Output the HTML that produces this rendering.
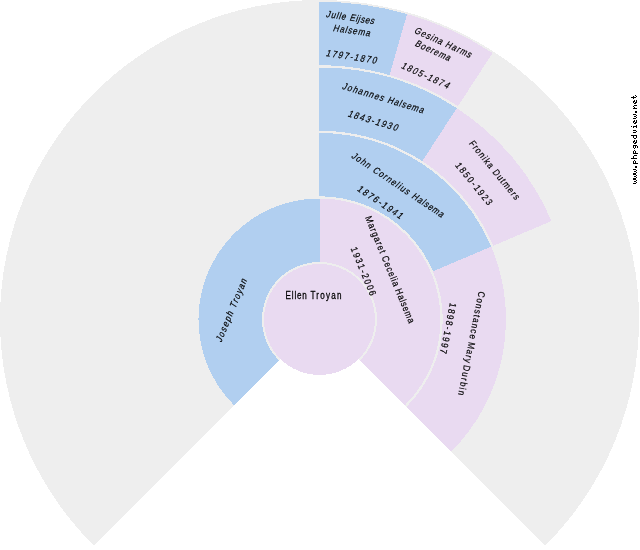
<!DOCTYPE html>
<html><head><meta charset="utf-8"><style>
html,body{margin:0;padding:0;background:#fff;}
body{width:640px;height:550px;overflow:hidden;position:relative;font-family:"Liberation Sans",sans-serif;}
svg{position:absolute;left:0;top:0;display:block}
text{font-family:"Liberation Sans",sans-serif;font-size:9.6px;fill:#000;stroke:#000;stroke-width:0.2px;}
</style></head><body>
<svg width="640" height="550" viewBox="0 0 640 550">
<g shape-rendering="crispEdges">
<path d="M319.5 319.5 L319.75 319.75 L93.83 545.67 L93.58 545.42 A319.5 319.5 0 1 1 545.42 545.42 L545.17 545.67 L319.25 319.75 Z" fill="#eeeeee"/>
<path d="M319.5 319.5 L319 319.5 L319 1.75 L319.50 1.75 A317.75 317.75 0 0 1 407.08 14.06 Z" fill="#b1cff0"/>
<path d="M319.5 319.5 L407.08 14.06 A317.75 317.75 0 0 1 492.56 53.01 Z" fill="#e9daf1"/>
<path d="M319.5 319.5 L319.75 319.75 L139.97 499.53 L139.72 499.28 A254.25 254.25 0 1 1 499.28 499.28 L499.03 499.53 L319.25 319.75 Z" fill="#eeeeee"/>
<path d="M319.5 319.5 L319 319.5 L319 67.50 L319.50 67.50 A252.0 252.0 0 0 1 456.75 108.16 Z" fill="#b1cff0"/>
<path d="M319.5 319.5 L456.75 108.16 A252.0 252.0 0 0 1 551.47 221.04 Z" fill="#e9daf1"/>
<path d="M319.5 319.5 L319.75 319.75 L186.28 453.21 L186.03 452.97 A188.75 188.75 0 1 1 452.97 452.97 L452.72 453.21 L319.25 319.75 Z" fill="#eeeeee"/>
<path d="M319.5 319.5 L319 319.5 L319 133.00 L319.50 133.00 A186.5 186.5 0 0 1 491.17 246.63 Z" fill="#b1cff0"/>
<path d="M319.5 319.5 L491.17 246.63 A186.5 186.5 0 0 1 451.38 451.38 L451.13 451.62 L319.25 319.75 Z" fill="#e9daf1"/>
<path d="M319.5 319.5 L319.75 319.75 L232.60 406.90 L232.35 406.65 A123.25 123.25 0 1 1 406.65 406.65 L406.40 406.90 L319.25 319.75 Z" fill="#eeeeee"/>
<path d="M319.5 319.5 L319.75 319.75 L234.19 405.31 L233.94 405.06 A121.0 121.0 0 0 1 319.50 198.50 L320 198.50 L320 319.5 Z" fill="#b1cff0"/>
<path d="M319.5 319.5 L320 319.5 L320 198.50 L319.50 198.50 A121.0 121.0 0 0 1 405.06 405.06 L404.81 405.31 L319.25 319.75 Z" fill="#e9daf1"/>
<path d="M319.5 319.5 L319.75 319.75 L279.09 360.41 L278.84 360.16 A57.5 57.5 0 1 1 360.16 360.16 L359.91 360.41 L319.25 319.75 Z" fill="#eeeeee"/>
<circle cx="319.5" cy="319.5" r="55.5" fill="#e9daf1"/>
</g>
<g opacity="0.999">
<g transform="translate(325.6 17.1) rotate(8.4375) skewX(-12) scale(0.84 1)"><text x="0.00" textLength="23.69" lengthAdjust="spacing">Julle</text><text x="28.57" textLength="29.17" lengthAdjust="spacing">Eijses</text></g>
<g transform="translate(332.5 30.9) rotate(8.4375) skewX(-12) scale(0.84 1)"><text x="0.00" textLength="44.52" lengthAdjust="spacing">Halsema</text></g>
<g transform="translate(325.5 56.1) rotate(8.4375) skewX(-12) scale(0.84 1)"><text x="0.00" textLength="60.71" lengthAdjust="spacing">1797-1870</text></g>
<g transform="translate(413.5 32.5) rotate(24.3) skewX(-12) scale(0.84 1)"><text x="0.00" textLength="73.21" lengthAdjust="spacing">Gesina Harms</text></g>
<g transform="translate(414.2 45.6) rotate(24.3) skewX(-12) scale(0.84 1)"><text x="0.00" textLength="45.00" lengthAdjust="spacing">Boerema</text></g>
<g transform="translate(400.5 67.8) rotate(24.3) skewX(-12) scale(0.84 1)"><text x="0.00" textLength="61.07" lengthAdjust="spacing">1805-1874</text></g>
<g transform="translate(341.6 88.8) rotate(16.875) skewX(-12) scale(0.84 1)"><text x="0.00" textLength="51.07" lengthAdjust="spacing">Johannes</text><text x="56.19" textLength="44.40" lengthAdjust="spacing">Halsema</text></g>
<g transform="translate(347.2 116.2) rotate(16.875) skewX(-12) scale(0.84 1)"><text x="0.00" textLength="61.31" lengthAdjust="spacing">1843-1930</text></g>
<g transform="translate(468.4 143.4) rotate(50.625) skewX(-5) scale(0.84 1)"><text x="0.00" textLength="87.86" lengthAdjust="spacing">Fronika Dutmers</text></g>
<g transform="translate(454.8 165.5) rotate(50.625) skewX(-5) scale(0.84 1)"><text x="0.00" textLength="61.90" lengthAdjust="spacing">1850-1923</text></g>
<g transform="translate(350.7 157.2) rotate(33.75) skewX(-10) scale(0.84 1)"><text x="0.00" textLength="24.82" lengthAdjust="spacing">John</text><text x="30.60" textLength="50.24" lengthAdjust="spacing">Cornelius</text><text x="86.43" textLength="43.33" lengthAdjust="spacing">Halsema</text></g>
<g transform="translate(356.6 190.3) rotate(33.75) skewX(-10) scale(0.84 1)"><text x="0.00" textLength="62.02" lengthAdjust="spacing">1876-1941</text></g>
<g transform="translate(365.0 217.6) rotate(67.5) skewX(-3) scale(0.84 1)"><text x="0.00" textLength="46.79" lengthAdjust="spacing">Margaret</text><text x="51.07" textLength="38.33" lengthAdjust="spacing">Cecelia</text><text x="93.45" textLength="43.10" lengthAdjust="spacing">Halsema</text></g>
<g transform="translate(350.5 248.6) rotate(67.5) skewX(-3) scale(0.84 1)"><text x="0.00" textLength="61.31" lengthAdjust="spacing">1931-2006</text></g>
<g transform="translate(478.7 291.1) rotate(101.25) skewX(0) scale(0.84 1)"><text x="0.00" textLength="57.38" lengthAdjust="spacing">Constance</text><text x="61.43" textLength="24.88" lengthAdjust="spacing">Mary</text><text x="89.52" textLength="36.07" lengthAdjust="spacing">Durbin</text></g>
<g transform="translate(450 302.4) rotate(101.25) skewX(0) scale(0.84 1)"><text x="0.00" textLength="61.31" lengthAdjust="spacing">1898-1997</text></g>
<g transform="translate(221.3 342.7) rotate(-67.5) skewX(-12) scale(0.84 1)"><text x="0.00" textLength="80.12" lengthAdjust="spacing">Joseph Troyan</text></g>
<g transform="translate(285.6 298.6) rotate(0) skewX(0) scale(0.8 1)"><text x="0.00" textLength="26.50" lengthAdjust="spacing" style="font-size:10.1px;stroke-width:0.3px">Ellen</text><text x="31.00" textLength="38.87" lengthAdjust="spacing" style="font-size:10.1px;stroke-width:0.3px">Troyan</text></g>
</g>
<path shape-rendering="crispEdges" fill="#000" d="M633 183h1v1h-1zM633 179h1v1h-1zM634 183h1v1h-1zM634 181h1v1h-1zM634 179h1v1h-1zM635 183h1v1h-1zM635 181h1v1h-1zM635 179h1v1h-1zM636 182h1v1h-1zM636 180h1v1h-1zM633 178h1v1h-1zM633 174h1v1h-1zM634 178h1v1h-1zM634 176h1v1h-1zM634 174h1v1h-1zM635 178h1v1h-1zM635 176h1v1h-1zM635 174h1v1h-1zM636 177h1v1h-1zM636 175h1v1h-1zM633 173h1v1h-1zM633 169h1v1h-1zM634 173h1v1h-1zM634 171h1v1h-1zM634 169h1v1h-1zM635 173h1v1h-1zM635 171h1v1h-1zM635 169h1v1h-1zM636 172h1v1h-1zM636 170h1v1h-1zM635 167h1v1h-1zM635 166h1v1h-1zM636 167h1v1h-1zM636 166h1v1h-1zM633 163h1v1h-1zM633 162h1v1h-1zM633 161h1v1h-1zM634 163h1v1h-1zM634 160h1v1h-1zM635 163h1v1h-1zM635 162h1v1h-1zM635 161h1v1h-1zM636 163h1v1h-1zM637 163h1v1h-1zM631 158h1v1h-1zM632 158h1v1h-1zM633 158h1v1h-1zM633 157h1v1h-1zM633 156h1v1h-1zM634 158h1v1h-1zM634 155h1v1h-1zM635 158h1v1h-1zM635 155h1v1h-1zM636 158h1v1h-1zM636 155h1v1h-1zM633 153h1v1h-1zM633 152h1v1h-1zM633 151h1v1h-1zM634 153h1v1h-1zM634 150h1v1h-1zM635 153h1v1h-1zM635 152h1v1h-1zM635 151h1v1h-1zM636 153h1v1h-1zM637 153h1v1h-1zM633 147h1v1h-1zM633 146h1v1h-1zM633 145h1v1h-1zM634 148h1v1h-1zM634 145h1v1h-1zM635 147h1v1h-1zM635 146h1v1h-1zM635 145h1v1h-1zM636 145h1v1h-1zM637 147h1v1h-1zM637 146h1v1h-1zM633 142h1v1h-1zM633 141h1v1h-1zM634 143h1v1h-1zM634 141h1v1h-1zM634 140h1v1h-1zM635 143h1v1h-1zM635 142h1v1h-1zM636 142h1v1h-1zM636 141h1v1h-1zM636 140h1v1h-1zM631 135h1v1h-1zM632 135h1v1h-1zM633 137h1v1h-1zM633 136h1v1h-1zM633 135h1v1h-1zM634 138h1v1h-1zM634 135h1v1h-1zM635 138h1v1h-1zM635 135h1v1h-1zM636 137h1v1h-1zM636 136h1v1h-1zM636 135h1v1h-1zM633 132h1v1h-1zM633 130h1v1h-1zM634 132h1v1h-1zM634 130h1v1h-1zM635 132h1v1h-1zM635 130h1v1h-1zM636 131h1v1h-1zM631 126h1v1h-1zM633 127h1v1h-1zM633 126h1v1h-1zM634 126h1v1h-1zM635 126h1v1h-1zM636 127h1v1h-1zM636 126h1v1h-1zM636 125h1v1h-1zM633 122h1v1h-1zM633 121h1v1h-1zM634 123h1v1h-1zM634 121h1v1h-1zM634 120h1v1h-1zM635 123h1v1h-1zM635 122h1v1h-1zM636 122h1v1h-1zM636 121h1v1h-1zM636 120h1v1h-1zM633 118h1v1h-1zM633 114h1v1h-1zM634 118h1v1h-1zM634 116h1v1h-1zM634 114h1v1h-1zM635 118h1v1h-1zM635 116h1v1h-1zM635 114h1v1h-1zM636 117h1v1h-1zM636 115h1v1h-1zM635 112h1v1h-1zM635 111h1v1h-1zM636 112h1v1h-1zM636 111h1v1h-1zM633 108h1v1h-1zM633 106h1v1h-1zM634 108h1v1h-1zM634 107h1v1h-1zM634 105h1v1h-1zM635 108h1v1h-1zM635 105h1v1h-1zM636 108h1v1h-1zM636 105h1v1h-1zM633 102h1v1h-1zM633 101h1v1h-1zM634 103h1v1h-1zM634 101h1v1h-1zM634 100h1v1h-1zM635 103h1v1h-1zM635 102h1v1h-1zM636 102h1v1h-1zM636 101h1v1h-1zM636 100h1v1h-1zM631 97h1v1h-1zM632 97h1v1h-1zM633 98h1v1h-1zM633 97h1v1h-1zM633 96h1v1h-1zM634 97h1v1h-1zM635 97h1v1h-1zM635 95h1v1h-1zM636 96h1v1h-1z"/>
</svg>
</body></html>
